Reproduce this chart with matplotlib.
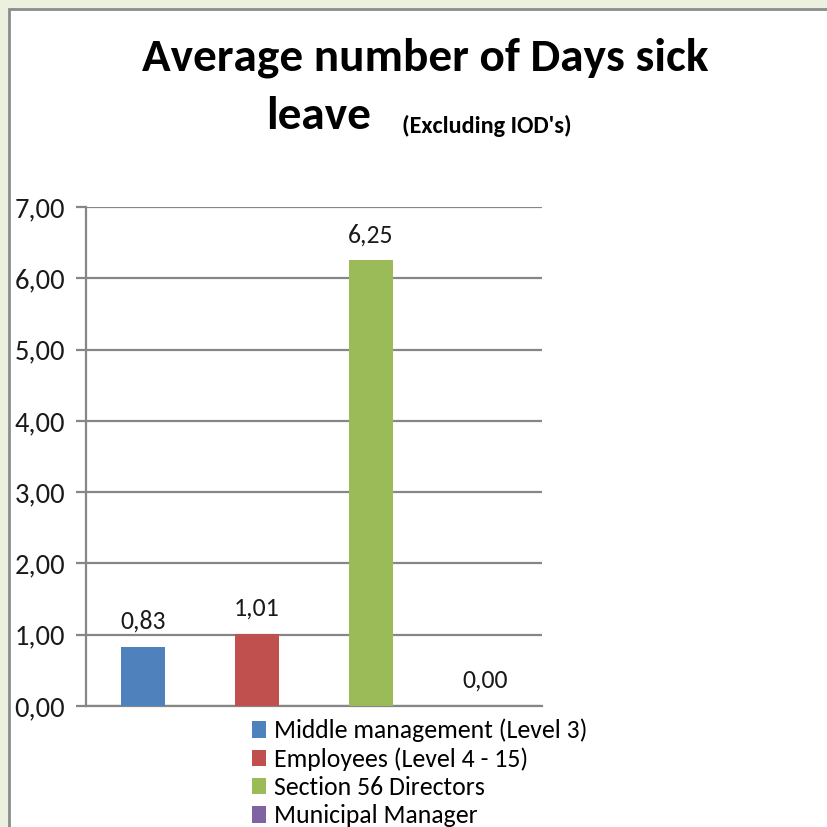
import matplotlib
matplotlib.use("Agg")
import matplotlib.pyplot as plt
from matplotlib.patches import Rectangle, Patch
from matplotlib import font_manager

categories = ["Middle management (Level 3)", "Employees (Level 4 - 15)",
              "Section 56 Directors", "Municipal Manager"]
values = [0.83, 1.01, 6.25, 0.00]
colors = ["#4F81BD", "#C0504D", "#9BBB59", "#8064A2"]
yticks = [0, 1, 2, 3, 4, 5, 6, 7]

available = {f.name for f in font_manager.fontManager.ttflist}
font = "Lato"
for cand in ["Carlito", "Lato"]:
    if cand in available:
        font = cand
        break
plt.rcParams['font.family'] = [font, 'DejaVu Sans']

fig = plt.figure(figsize=(8.27, 8.27), dpi=100)
fig.patch.set_facecolor("white")
W, H = 827, 827
fig.patches.append(Rectangle((0, 0), 1, 1, transform=fig.transFigure,
                             facecolor="#EBF1DE", edgecolor="none", zorder=-10))
fig.patches.append(Rectangle((9 / W, -0.01), 1.0, 1 - 9 / H + 0.01, transform=fig.transFigure,
                             facecolor="white", edgecolor="#8C8C8C", linewidth=2, zorder=-9))

ax = fig.add_axes([86 / W, 1 - 706 / H, (542 - 86) / W, (706 - 207) / H])
ax.set_facecolor("none")
x = range(len(values))
ax.bar(x, values, width=0.39, color=colors, zorder=3)
ax.set_xlim(-0.5, 3.5)
ax.set_ylim(0, 7)
ax.set_yticks(yticks)
ax.set_yticklabels([f"{v:.2f}".replace(".", ",") for v in yticks], fontsize=20.5, color="#1a1a1a")
ax.set_xticks([])
ax.grid(axis="y", color="#868686", linewidth=1.6, zorder=0)
for s in ["top", "right"]:
    ax.spines[s].set_visible(False)
ax.spines["left"].set_color("#868686")
ax.spines["left"].set_linewidth(1.6)
ax.spines["bottom"].set_color("#868686")
ax.spines["bottom"].set_linewidth(1.6)
ax.tick_params(axis="y", length=7, width=1.6, color="#868686", pad=8)

for i, v in enumerate(values):
    ax.text(i, v + 0.2, f"{v:.2f}".replace(".", ","), ha="center", va="bottom",
            fontsize=18.5, color="#1a1a1a")

fig.text(425 / W, 1 - 58 / H, "Average number of Days sick", ha="center", va="center",
         fontsize=34, fontweight="bold", color="black")
fig.text(319 / W, 1 - 116 / H, "leave", ha="center", va="center",
         fontsize=34, fontweight="bold", color="black")
fig.text(487 / W, 1 - 126 / H, "(Excluding IOD's)", ha="center", va="center",
         fontsize=17.5, fontweight="bold", color="black")

handles = [Patch(facecolor=c, edgecolor="none") for c in colors]
leg = fig.legend(handles, categories, loc="upper left",
                 bbox_to_anchor=(239 / W, 1 - 706 / H), frameon=False,
                 fontsize=18.5, handlelength=0.55, handleheight=0.6,
                 handletextpad=0.3, labelspacing=0.2, borderpad=0)

fig.savefig("out.png", dpi=100)
